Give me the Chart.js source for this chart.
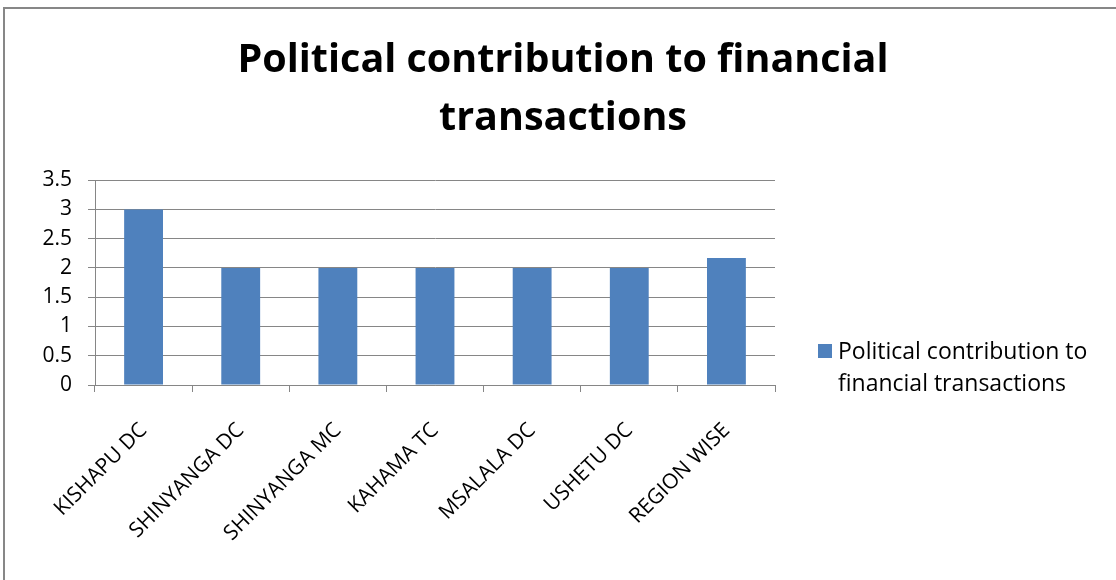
<!DOCTYPE html>
<html>
<head>
<meta charset="utf-8">
<script src="https://cdn.jsdelivr.net/npm/chart.js@4"></script>
<style>
html,body{margin:0;padding:0;background:#fff;overflow:hidden;}
#wrap{position:absolute;left:0;top:0;width:1116px;height:580px;}
#frame{position:absolute;left:3px;top:7px;width:1200px;height:700px;border:2px solid #878787;box-sizing:border-box;pointer-events:none;}
</style>
</head>
<body>
<div id="wrap"><canvas id="c" width="1116" height="580"></canvas></div>
<div id="frame"></div>
<script>
const categories = ["KISHAPU DC","SHINYANGA DC","SHINYANGA MC","KAHAMA TC","MSALALA DC","USHETU DC","REGION WISE"];
const seriesName = "Political contribution to financial transactions";
const values = [3, 2, 2, 2, 2, 2, 2.17];
const titleLines = ["Political contribution to financial", "transactions"];
const yTicks = [0, 0.5, 1, 1.5, 2, 2.5, 3, 3.5];
const legendLines = ["Political contribution to", "financial transactions"];

const FONT = "'Open Sans', sans-serif";
const barColor = "#4F81BD";

const legendPlugin = {
  id: 'customLegend',
  afterDraw(chart) {
    const ctx = chart.ctx;
    ctx.save();
    ctx.fillStyle = barColor;
    ctx.fillRect(818, 344, 14, 14);
    ctx.fillStyle = '#000';
    ctx.font = "23px " + FONT;
    ctx.textBaseline = 'middle';
    ctx.textAlign = 'left';
    legendLines.forEach((t, i) => ctx.fillText(t, 838, 352 + i * 32));
    ctx.restore();
  }
};

new Chart(document.getElementById('c'), {
  type: 'bar',
  data: {
    labels: categories,
    datasets: [{
      label: seriesName,
      data: values,
      backgroundColor: barColor,
      borderWidth: 0,
      categoryPercentage: 1,
      barPercentage: 0.4
    }]
  },
  options: {
    responsive: false,
    animation: false,
    layout: { padding: { left: 10, right: 0, top: 0, bottom: 0 } },
    plugins: {
      legend: { display: false },
      tooltip: { enabled: false },
      title: {
        display: true,
        text: titleLines,
        color: '#000',
        font: { family: FONT, size: 39.5, weight: 'bold', lineHeight: 1.47 },
        padding: { top: 32, bottom: 32 }
      }
    },
    scales: {
      x: {
        grid: { display: true, drawOnChartArea: false, drawTicks: true, tickLength: 7, color: '#868686', offset: true },
        border: { display: true, color: '#868686', width: 1 },
        ticks: { color: '#000', font: { family: FONT, size: 21 }, maxRotation: 45, minRotation: 45, padding: 26, autoSkip: false },
        afterFit(s) { s.height = 195; }
      },
      y: {
        min: 0, max: 3.5,
        afterBuildTicks(s) { s.ticks = yTicks.map(v => ({ value: v })); },
        grid: { color: '#868686', lineWidth: 1, tickLength: 7 },
        border: { display: true, color: '#868686', width: 1 },
        ticks: { color: '#000', font: { family: FONT, size: 21 }, padding: 16, callback: v => String(v) },
        afterFit(s) { s.width = 85; }
      },
      yR: {
        position: 'right',
        min: 0, max: 3.5,
        grid: { display: false, drawTicks: false },
        border: { display: false },
        ticks: { display: false },
        afterFit(s) { s.width = 341; }
      }
    }
  },
  plugins: [legendPlugin]
});
</script>
</body>
</html>
